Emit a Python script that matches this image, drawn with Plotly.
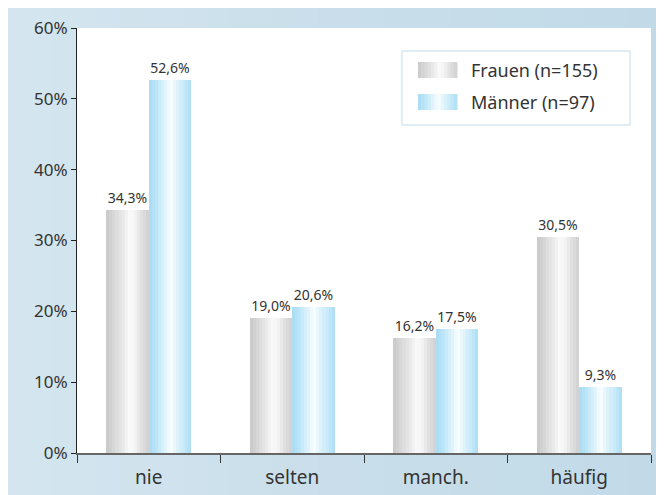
import plotly.graph_objects as go

categories = ["nie", "selten", "manch.", "häufig"]
frauen = [34.3, 19.0, 16.2, 30.5]
maenner = [52.6, 20.6, 17.5, 9.3]
series_names = ["Frauen (n=155)", "Männer (n=97)"]
y_ticks = [0, 10, 20, 30, 40, 50, 60]

FONT = "Noto Sans"
TXT = "#333333"

grey_stops = [(0, "#c8c8c8"), (0.2, "#d9d9d9"), (0.4, "#ebebeb"), (0.55, "#fbfbfb"),
              (0.68, "#f2f2f2"), (0.82, "#e0e0e0"), (1, "#d0d0d0")]
blue_stops = [(0, "#a8dbf4"), (0.2, "#c0e6f8"), (0.42, "#e6f6fd"), (0.52, "#fafdff"),
              (0.65, "#e2f4fc"), (0.82, "#c8eaf9"), (1, "#addef5")]


def hex2rgb(h):
    h = h.lstrip("#")
    return tuple(int(h[i:i + 2], 16) for i in (0, 2, 4))


def grad(stops, t):
    for (t0, c0), (t1, c1) in zip(stops[:-1], stops[1:]):
        if t0 <= t <= t1:
            f = 0 if t1 == t0 else (t - t0) / (t1 - t0)
            a, b = hex2rgb(c0), hex2rgb(c1)
            return "rgb(%d,%d,%d)" % tuple(round(a[i] + (b[i] - a[i]) * f) for i in range(3))
    return stops[-1][1]


N = 14
BW = 0.295
fig = go.Figure()

for si, (vals, stops) in enumerate([(frauen, grey_stops), (maenner, blue_stops)]):
    start = -BW if si == 0 else 0.0
    sw = BW / N
    for k in range(N):
        t = (k + 0.5) / N
        fig.add_trace(go.Bar(
            x=categories, y=vals,
            offset=start + k * sw, width=sw * 1.03,
            marker=dict(color=grad(stops, t), line=dict(width=0)),
            showlegend=False, hoverinfo="skip",
        ))
    fig.add_trace(go.Bar(
        x=categories, y=vals, offset=start, width=BW,
        marker=dict(color="rgba(0,0,0,0)", line=dict(width=0)),
        texttemplate="%{y:.1f}%", textposition="outside",
        textfont=dict(family=FONT, size=14, color=TXT),
        cliponaxis=False, showlegend=False, name=series_names[si],
    ))

W, H = 664, 495
L, R, T, B = 69, 21, 20, 50
pw, ph = W - L - R, H - T - B


def px2x(px):
    return (px - L) / pw


def py2y(py):
    return (H - B - py) / ph


shapes = []
nstrip = 30
for i in range(nstrip):
    t = i / (nstrip - 1)
    c = grad([(0, "#d4e5ef"), (0.5, "#c9deea"), (1, "#c2dae8")], t)
    xa = W * i / nstrip
    xb = W * (i + 1) / nstrip + 1
    shapes.append(dict(type="rect", xref="paper", yref="paper", layer="below",
                       x0=px2x(xa), x1=px2x(xb), y0=py2y(H), y1=py2y(0),
                       fillcolor=c, line=dict(width=0)))
shapes.append(dict(type="rect", xref="paper", yref="paper", layer="below",
                   x0=0, x1=1, y0=0, y1=1, fillcolor="white", line=dict(width=0)))

# Legend box (manual, gradient swatches)
lx0, lx1, ly0, ly1 = 394, 622, 43, 117
shapes.append(dict(type="rect", xref="paper", yref="paper",
                   x0=px2x(lx0), x1=px2x(lx1), y0=py2y(ly1), y1=py2y(ly0),
                   fillcolor="white", line=dict(color="#bfdcec", width=1)))
annotations = []
for si, (stops, cy) in enumerate([(grey_stops, 62), (blue_stops, 94)]):
    sx0, sx1 = 410, 449
    n = 12
    for k in range(n):
        t = (k + 0.5) / n
        xa = sx0 + (sx1 - sx0) * k / n
        xb = sx0 + (sx1 - sx0) * (k + 1) / n + 0.5
        shapes.append(dict(type="rect", xref="paper", yref="paper",
                           x0=px2x(xa), x1=px2x(xb), y0=py2y(cy + 8), y1=py2y(cy - 8),
                           fillcolor=grad(stops, t), line=dict(width=0)))
    annotations.append(dict(xref="paper", yref="paper", x=px2x(461), y=py2y(cy),
                            text=series_names[si], showarrow=False, xanchor="left",
                            yanchor="middle", font=dict(family=FONT, size=18, color=TXT)))

fig.update_layout(
    width=W, height=H,
    margin=dict(l=L, r=R, t=T, b=B, autoexpand=False),
    paper_bgcolor="#c9deea", plot_bgcolor="white",
    barmode="overlay", separators=",.", bargap=0,
    shapes=shapes, annotations=annotations,
    font=dict(family=FONT, color=TXT),
    showlegend=False,
)
fig.update_xaxes(
    type="category", tickson="boundaries", ticks="outside", ticklen=8,
    tickcolor="#333333", showline=True, linecolor="#666666", linewidth=1.5,
    tickfont=dict(family=FONT, size=19, color=TXT), showgrid=False,
    ticklabelstandoff=6,
)
fig.update_yaxes(
    range=[0, 60], tickvals=y_ticks, ticktext=[f"{v}%" for v in y_ticks],
    ticks="outside", ticklen=5, tickcolor="#222222", showline=True,
    linecolor="#222222", linewidth=1, showgrid=False, zeroline=False,
    tickfont=dict(family=FONT, size=17, color=TXT),
)
fig.write_html("out.html")
